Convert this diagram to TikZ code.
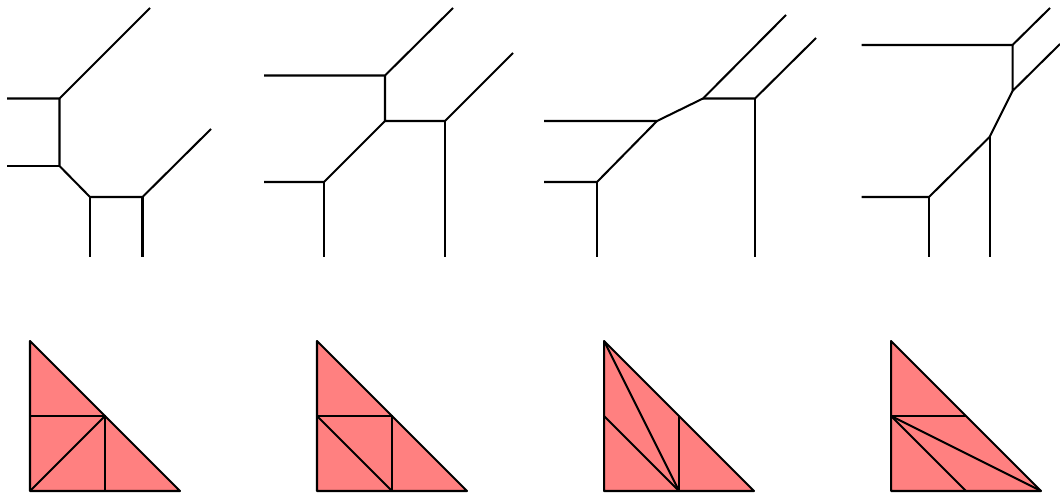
\documentclass[tikz,border=0pt]{standalone}
\usepackage{tikz}
\usetikzlibrary{positioning}

\begin{document}
\begin{tikzpicture}
            [x=0.02cm, y=-0.02cm,
             curve/.style={line width=1.15pt, line cap=butt, line join=miter},
             cell/.style={line width=1.15pt, fill=red!50, line join=round}]
            \useasboundingbox (0,0) rectangle (1060,496);

            % first curve
            \coordinate (A1) at (59.5,98.5);
            \coordinate (B1) at (59.5,166);
            \coordinate (C1) at (90,197);
            \coordinate (D1) at (142.5,197);
            \coordinate (l1) at (7,98.5);
            \coordinate (m1) at (7,166);
            \coordinate (n1) at (150,8);
            \coordinate (p1) at (211,129);
            \coordinate (q1) at (90,257);
            \coordinate (r1) at (142.5,257);
            \draw[curve] (l1) -- (A1) -- (n1);
            \draw[curve] (A1) -- (B1) -- (C1) -- (D1) -- (p1);
            \draw[curve] (m1) -- (B1);
            \draw[curve] (C1) -- (q1);
            \draw[curve] (D1) -- (r1);

            % second curve
            \coordinate (A2) at (385,75.5);
            \coordinate (B2) at (385,121);
            \coordinate (C2) at (445,121);
            \coordinate (D2) at (324,182);
            \coordinate (l2) at (264,75.5);
            \coordinate (m2) at (264,182);
            \coordinate (n2) at (453,8);
            \coordinate (p2) at (513,53);
            \coordinate (q2) at (324,257);
            \coordinate (r2) at (445,257);
            \draw[curve] (l2) -- (A2) -- (n2);
            \draw[curve] (A2) -- (B2) -- (C2) -- (p2);
            \draw[curve] (B2) -- (D2) -- (m2);
            \draw[curve] (C2) -- (r2);
            \draw[curve] (D2) -- (q2);

            % third curve
            \coordinate (A3) at (657,121);
            \coordinate (B3) at (703,98.5);
            \coordinate (C3) at (755,98.5);
            \coordinate (D3) at (597,182);
            \coordinate (l3) at (544,121);
            \coordinate (m3) at (544,182);
            \coordinate (n3) at (786,15);
            \coordinate (p3) at (816,38);
            \coordinate (q3) at (597,257);
            \coordinate (r3) at (755,257);
            \draw[curve] (l3) -- (A3) -- (B3) -- (n3);
            \draw[curve] (B3) -- (C3) -- (p3);
            \draw[curve] (A3) -- (D3) -- (m3);
            \draw[curve] (C3) -- (r3);
            \draw[curve] (D3) -- (q3);

            % fourth curve
            \coordinate (A4) at (1012.5,45);
            \coordinate (B4) at (1012.5,91);
            \coordinate (C4) at (989.5,137);
            \coordinate (D4) at (929,197);
            \coordinate (l4) at (861.5,45);
            \coordinate (m4) at (861.5,197);
            \coordinate (n4) at (1050,8);
            \coordinate (p4) at (1060,44);
            \coordinate (q4) at (929,257);
            \coordinate (r4) at (989.5,257);
            \draw[curve] (l4) -- (A4) -- (n4);
            \draw[curve] (A4) -- (B4) -- (p4);
            \draw[curve] (B4) -- (C4) -- (D4) -- (m4);
            \draw[curve] (C4) -- (r4);
            \draw[curve] (D4) -- (q4);

            % subdivided triangles
            \foreach \t/\x in {1/30, 2/317, 3/604, 4/891} {
                \coordinate (T\t) at (\x,341);
                \coordinate (L\t) at (\x,416);
                \coordinate (O\t) at (\x,491);
                \coordinate (M\t) at (\x+75,416);
                \coordinate (H\t) at (\x+75,491);
                \coordinate (R\t) at (\x+150,491);
                \draw[cell] (T\t) -- (O\t) -- (R\t) -- cycle;
            }

            \draw[curve] (L1) -- (M1) -- (H1);
            \draw[curve] (M1) -- (O1);

            \draw[curve] (L2) -- (M2) -- (H2);
            \draw[curve] (L2) -- (H2);

            \draw[curve] (T3) -- (H3);
            \draw[curve] (L3) -- (H3);
            \draw[curve] (M3) -- (H3);

            \draw[curve] (L4) -- (M4);
            \draw[curve] (L4) -- (H4);
            \draw[curve] (L4) -- (R4);
        \end{tikzpicture}
\end{document}
